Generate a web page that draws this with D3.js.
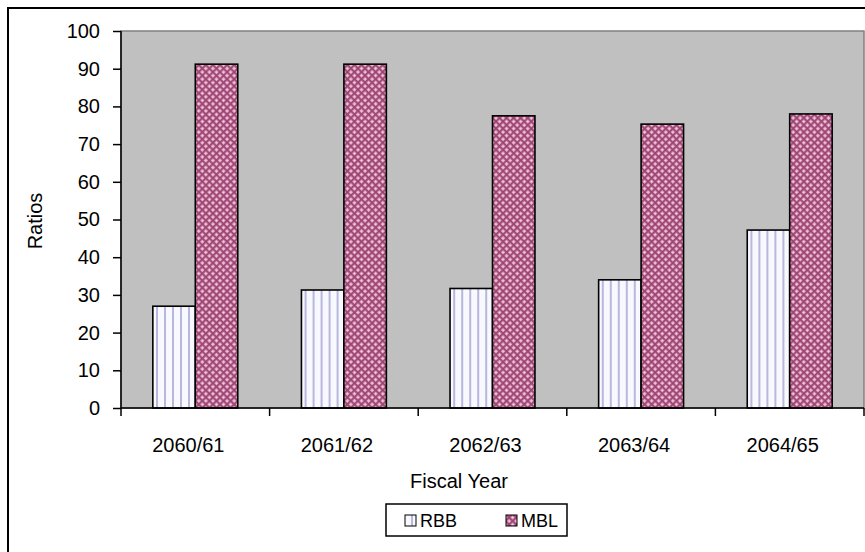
<!DOCTYPE html>
<html>
<head>
<meta charset="utf-8">
<script src="https://cdn.jsdelivr.net/npm/d3@7"></script>
<style>
  html, body { margin: 0; padding: 0; background: #fff; }
  svg { display: block; font-family: "Liberation Sans", Arial, sans-serif; }
</style>
</head>
<body>
<svg id="chart" width="865" height="552"></svg>
<script>
// Fiscal years and ratio values per bank
const years = ["2060/61", "2061/62", "2062/63", "2063/64", "2064/65"];
const seriesNames = ["RBB", "MBL"];
const rbbValues = [27, 31.3, 31.7, 34, 47.2];
const mblValues = [91.2, 91.2, 77.5, 75.3, 78];
const yTicks = [0, 10, 20, 30, 40, 50, 60, 70, 80, 90, 100];

const FONT = 20;
const svg = d3.select("#chart");
const plot = { left: 121, top: 31, right: 864, bottom: 408 };

// Fill patterns for the two series
const defs = svg.append("defs");
const pRbb = defs.append("pattern").attr("id", "pat-rbb")
  .attr("patternUnits", "userSpaceOnUse").attr("width", 8).attr("height", 8);
pRbb.append("rect").attr("width", 8).attr("height", 8).attr("fill", "#f8f8ff");
pRbb.append("rect").attr("x", 3).attr("width", 2).attr("height", 8).attr("fill", "#b8b8de");

// diagonal cross-hatch for MBL
const pMbl = defs.append("pattern").attr("id", "pat-mbl")
  .attr("patternUnits", "userSpaceOnUse").attr("width", 5).attr("height", 5)
  .attr("patternTransform", "rotate(45)");
pMbl.append("rect").attr("width", 5).attr("height", 5).attr("fill", "#e2aac6");
pMbl.append("rect").attr("x", 0).attr("y", 0).attr("width", 1.8).attr("height", 5).attr("fill", "#9c4472");
pMbl.append("rect").attr("x", 0).attr("y", 0).attr("width", 5).attr("height", 1.8).attr("fill", "#9c4472");
pMbl.append("rect").attr("x", 3).attr("y", 3).attr("width", 1).attr("height", 1).attr("fill", "#f6dcea");

const fills = { RBB: "url(#pat-rbb)", MBL: "url(#pat-mbl)" };

// Outer chart frame
svg.append("rect").attr("x", 8).attr("y", 8).attr("width", 870).attr("height", 560)
  .attr("fill", "#fff").attr("stroke", "#000").attr("stroke-width", 2);

const x = d3.scaleBand().domain(years).range([plot.left, plot.right]).paddingInner(0).paddingOuter(0);
const xInner = d3.scaleBand().domain(seriesNames).range([0, x.bandwidth()])
  .paddingInner(0).paddingOuter(0.75);
const y = d3.scaleLinear().domain([0, 100]).range([plot.bottom, plot.top]);

// Plot area background
svg.append("rect").attr("x", plot.left).attr("y", plot.top)
  .attr("width", plot.right - plot.left).attr("height", plot.bottom - plot.top)
  .attr("fill", "#c0c0c0").attr("stroke", "#808080").attr("stroke-width", 1.5);

// Bars
const rows = years.map((yr, i) => ({ year: yr, RBB: rbbValues[i], MBL: mblValues[i] }));
const groups = svg.append("g").selectAll("g").data(rows).join("g")
  .attr("transform", d => `translate(${x(d.year)},0)`);
groups.selectAll("rect").data(d => seriesNames.map(k => ({ key: k, value: d[k] }))).join("rect")
  .attr("x", d => xInner(d.key))
  .attr("y", d => y(d.value))
  .attr("width", xInner.bandwidth())
  .attr("height", d => y(0) - y(d.value))
  .attr("fill", d => fills[d.key])
  .attr("stroke", "#000").attr("stroke-width", 1.6);

// Y axis
const yAxis = svg.append("g").attr("transform", `translate(${plot.left},0)`)
  .call(d3.axisLeft(y).tickValues(yTicks).tickSize(8).tickPadding(13).tickFormat(d3.format("d")));
yAxis.attr("font-size", FONT).attr("font-family", "'Liberation Sans', Arial, sans-serif");
yAxis.select(".domain").attr("stroke", "#000").attr("stroke-width", 1.5).attr("d", `M0,${plot.top}V${plot.bottom}`);
yAxis.selectAll(".tick line").attr("stroke", "#000").attr("stroke-width", 1.5);
yAxis.selectAll("text").attr("fill", "#000");

// X axis: ticks on category boundaries
const xAxisG = svg.append("g");
xAxisG.append("line").attr("x1", plot.left).attr("x2", plot.right)
  .attr("y1", plot.bottom).attr("y2", plot.bottom).attr("stroke", "#000").attr("stroke-width", 1.5);
const boundaries = years.map(d => x(d)).concat([x(years[years.length - 1]) + x.bandwidth()]);
xAxisG.selectAll("line.tk").data(boundaries).join("line").attr("class", "tk")
  .attr("x1", d => d).attr("x2", d => d).attr("y1", plot.bottom).attr("y2", plot.bottom + 8)
  .attr("stroke", "#000").attr("stroke-width", 1.5);
xAxisG.selectAll("text").data(years).join("text")
  .attr("x", d => x(d) + x.bandwidth() / 2 - 7)
  .attr("y", 452)
  .attr("text-anchor", "middle").attr("font-size", FONT).attr("fill", "#000")
  .text(d => d);

// Axis titles
svg.append("text").attr("x", 459).attr("y", 488).attr("text-anchor", "middle")
  .attr("font-size", FONT).attr("fill", "#000").text("Fiscal Year");
svg.append("text").attr("transform", "translate(42,221) rotate(-90)")
  .attr("text-anchor", "middle").attr("font-size", FONT).attr("fill", "#000").text("Ratios");

// Legend
const legend = svg.append("g");
legend.append("rect").attr("x", 386).attr("y", 504).attr("width", 181).attr("height", 32)
  .attr("fill", "#fff").attr("stroke", "#000").attr("stroke-width", 1.5);
const legX = [405, 506];
seriesNames.forEach((name, i) => {
  legend.append("rect").attr("x", legX[i]).attr("y", 515).attr("width", 11).attr("height", 11)
    .attr("fill", fills[name]).attr("stroke", "#000").attr("stroke-width", 1);
  legend.append("text").attr("x", legX[i] + 15).attr("y", 527)
    .attr("font-size", 18).attr("fill", "#000").text(name);
});
</script>
</body>
</html>
